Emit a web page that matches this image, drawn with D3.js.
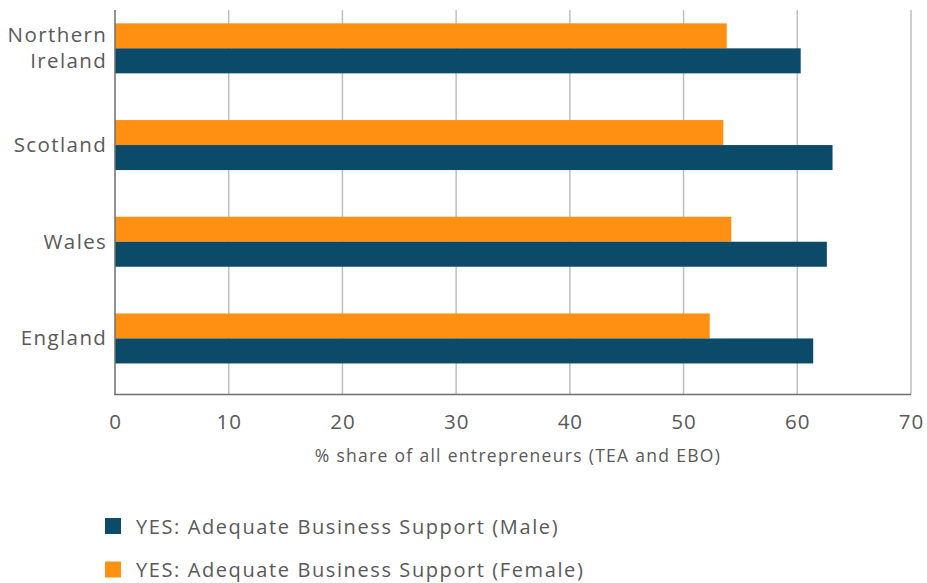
<!DOCTYPE html>
<html>
<head>
<meta charset="utf-8">
<script src="https://cdn.jsdelivr.net/npm/d3@7/dist/d3.min.js"></script>
<style>
  html, body { margin: 0; padding: 0; background: #ffffff; }
  svg { display: block; font-family: "Open Sans", "Noto Sans", sans-serif; }
</style>
</head>
<body>
<svg id="chart" width="927" height="583"></svg>
<script>
// Regions, top to bottom
const regions = ["Northern Ireland", "Scotland", "Wales", "England"];
// % of entrepreneurs reporting adequate business support
const femaleValues = [53.8, 53.5, 54.2, 52.3];
const maleValues = [60.3, 63.1, 62.6, 61.4];
const xTicks = [0, 10, 20, 30, 40, 50, 60, 70];
const seriesNames = ["YES: Adequate Business Support (Male)", "YES: Adequate Business Support (Female)"];
const seriesKeys = ["female", "male"];

const colors = { male: "#0c4a6a", female: "#ff9012" };
const textColor = "#595959";

const svg = d3.select("#chart");
const plot = { left: 115, right: 911, top: 10, bottom: 394.5 };

const x = d3.scaleLinear().domain([0, 70]).range([plot.left, plot.right]);
const y = d3.scaleBand().domain(regions).range([0, 386.8])
  .paddingInner(0.483).paddingOuter(0.2415);
const ySub = d3.scaleBand().domain(seriesKeys).range([0, y.bandwidth()]);

const rows = regions.map((r, i) => ({ region: r, female: femaleValues[i], male: maleValues[i] }));

// vertical gridlines
svg.append("g")
  .selectAll("line")
  .data(xTicks.filter(t => t > 0))
  .join("line")
  .attr("x1", d => x(d)).attr("x2", d => x(d))
  .attr("y1", plot.top).attr("y2", plot.bottom)
  .attr("stroke", "#bfbfbf").attr("stroke-width", 1.5);

// bars
const groups = svg.append("g")
  .selectAll("g")
  .data(rows)
  .join("g")
  .attr("transform", d => `translate(0,${y(d.region)})`);

groups.selectAll("rect")
  .data(d => seriesKeys.map(k => ({ key: k, value: d[k] })))
  .join("rect")
  .attr("x", x(0))
  .attr("y", d => ySub(d.key))
  .attr("width", d => x(d.value) - x(0))
  .attr("height", ySub.bandwidth())
  .attr("fill", d => colors[d.key]);

// axis lines
svg.append("line")
  .attr("x1", plot.left).attr("x2", plot.left)
  .attr("y1", plot.top).attr("y2", plot.bottom)
  .attr("stroke", "#6e6e6e").attr("stroke-width", 1.5);
svg.append("line")
  .attr("x1", plot.left - 0.75).attr("x2", plot.right)
  .attr("y1", plot.bottom).attr("y2", plot.bottom)
  .attr("stroke", "#6e6e6e").attr("stroke-width", 1.5);

// x tick labels
const xAxis = d3.axisBottom(x).tickValues(xTicks).tickSize(0).tickPadding(0);
const xg = svg.append("g").attr("transform", `translate(0,${plot.bottom})`).call(xAxis);
xg.select(".domain").remove();
xg.selectAll("text")
  .attr("dy", null)
  .attr("y", 34)
  .attr("fill", textColor)
  .attr("font-size", 20.5)
  .attr("letter-spacing", 1)
  .attr("font-family", "\"Open Sans\", sans-serif");

// category labels (Northern Ireland wraps onto two lines)
const labelX = 107.3;
const lineHeight = 26;
const labelLines = [];
regions.forEach(r => {
  const words = r === "Northern Ireland" ? ["Northern", "Ireland"] : [r];
  words.forEach((w, i) => {
    labelLines.push({
      text: w,
      y: y(r) + y.bandwidth() / 2 + 7 + (i - (words.length - 1) / 2) * lineHeight
    });
  });
});
svg.append("g")
  .selectAll("text")
  .data(labelLines)
  .join("text")
  .attr("text-anchor", "end")
  .attr("fill", textColor)
  .attr("font-size", 20.5)
  .attr("letter-spacing", 1.4)
  .attr("x", labelX)
  .attr("y", d => d.y)
  .text(d => d.text);

// axis title
svg.append("text")
  .attr("x", (plot.left + plot.right) / 2 + 5)
  .attr("y", 462)
  .attr("text-anchor", "middle")
  .attr("fill", textColor)
  .attr("font-size", 17.5)
  .attr("letter-spacing", 1.3)
  .text("% share of all entrepreneurs (TEA and EBO)");

// legend
const legendItems = [
  { name: seriesNames[0], color: colors.male },
  { name: seriesNames[1], color: colors.female }
];
const legend = svg.append("g")
  .selectAll("g")
  .data(legendItems)
  .join("g")
  .attr("transform", (d, i) => `translate(105,${518 + i * 43.5})`);
legend.append("rect")
  .attr("width", 16).attr("height", 16)
  .attr("fill", d => d.color);
legend.append("text")
  .attr("x", 31)
  .attr("y", 15.5)
  .attr("fill", textColor)
  .attr("font-size", 20)
  .attr("letter-spacing", 1.6)
  .text(d => d.name);
</script>
</body>
</html>
